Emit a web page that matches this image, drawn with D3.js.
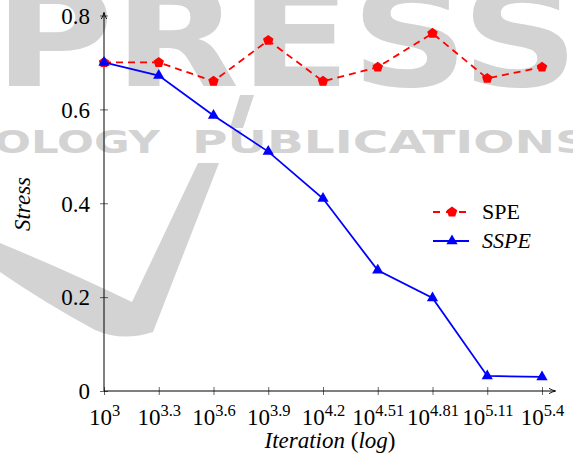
<html>
    <head>
        <title>stress vs iteration</title>
        <script src="https://d3js.org/d3.v7.min.js"></script>
    </head>
    <body>
        <svg id="stress-plot" width="573" height="461"></svg>
        <script>
            // chart data
            const exponents = ["3", "3.3", "3.6", "3.9", "4.2", "4.51", "4.81", "5.11", "5.4"];
            const speValues = [0.70, 0.70, 0.66, 0.747, 0.66, 0.69, 0.762, 0.666, 0.69];
            const sspeValues = [0.70, 0.672, 0.587, 0.51, 0.41, 0.257, 0.198, 0.032, 0.03];
            const yTicks = [0, 0.2, 0.4, 0.6, 0.8];

            const svg = d3.select("svg#stress-plot");
            const plotLeft = 104, plotRight = 542, plotTop = 15.5, plotBottom = 391;
            const serif = "'Liberation Serif', 'Times New Roman', serif";

            // background watermark
            const mark = svg.append("g").attr("id", "watermark").attr("fill", "#d3d3d3");
            mark.append("text").text("PRESS")
                .attr("x", -6).attr("y", 86)
                .attr("font-family", "'DejaVu Sans'").attr("font-weight", "bold")
                .attr("font-size", 138)
                .attr("textLength", 585).attr("lengthAdjust", "spacingAndGlyphs");
            mark.append("text").text("OLOGY")
                .attr("x", -6).attr("y", 153)
                .attr("font-family", "'DejaVu Sans'").attr("font-weight", "bold")
                .attr("font-size", 32)
                .attr("textLength", 166).attr("lengthAdjust", "spacingAndGlyphs");
            mark.append("text").text("PUBLICATIONS")
                .attr("x", 192).attr("y", 153)
                .attr("font-family", "'DejaVu Sans'").attr("font-weight", "bold")
                .attr("font-size", 32)
                .attr("textLength", 398).attr("lengthAdjust", "spacingAndGlyphs");
            mark.append("path")
                .attr("d", "M0,243 Q70,272 132,302 L198,163 L219,163 L153,332 Q122,342 95,330 Q45,303 0,272 Z");
            mark.append("path")
                .attr("d", "M240,95 L254,95 L243,128 L230,128 Z");

            // scales
            const xScale = d3.scalePoint().domain(exponents).range([plotLeft, plotRight]);
            const yScale = d3.scaleLinear().domain([0, 0.8]).range([plotBottom, plotTop]);

            // arrow head for the axes
            svg.append("defs").append("marker")
                .attr("id", "arrow")
                .attr("viewBox", "0 0 10 10")
                .attr("refX", 9).attr("refY", 5)
                .attr("markerWidth", 7).attr("markerHeight", 7)
                .attr("markerUnits", "userSpaceOnUse")
                .attr("orient", "auto")
                .append("path")
                .attr("d", "M0,1 Q5,4 10,5 Q5,6 0,9")
                .attr("fill", "none").attr("stroke", "black").attr("stroke-width", 1.3);

            // axis lines
            svg.append("line")
                .attr("x1", plotLeft).attr("y1", plotBottom)
                .attr("x2", 555).attr("y2", plotBottom)
                .attr("stroke", "black").attr("stroke-width", 1)
                .attr("marker-end", "url(#arrow)");
            svg.append("line")
                .attr("x1", plotLeft).attr("y1", plotBottom)
                .attr("x2", plotLeft).attr("y2", 13)
                .attr("stroke", "black").attr("stroke-width", 1)
                .attr("marker-end", "url(#arrow)");

            // y ticks
            const yAxis = d3.axisLeft(yScale)
                .tickValues(yTicks)
                .tickSize(4)
                .tickFormat(d => d === 0 ? "0" : d3.format(".1f")(d));
            const yAxisG = svg.append("g")
                .attr("transform", `translate(${plotLeft},0)`)
                .call(yAxis);
            yAxisG.select(".domain").remove();
            yAxisG.selectAll(".tick line").attr("x2", 4).attr("x1", -4).attr("stroke-width", 0.6);
            yAxisG.selectAll(".tick text")
                .attr("font-family", serif).attr("font-size", 23).attr("fill", "black")
                .attr("x", -14).attr("dy", "0.34em");

            // x ticks, labels written as powers of ten
            const xAxis = d3.axisBottom(xScale).tickSize(4).tickFormat("");
            const xAxisG = svg.append("g")
                .attr("transform", `translate(0,${plotBottom})`)
                .call(xAxis);
            xAxisG.select(".domain").remove();
            xAxisG.selectAll(".tick line").attr("y1", -4).attr("y2", 4).attr("stroke-width", 0.6);
            xAxisG.selectAll(".tick").each(function(d) {
                const t = d3.select(this).append("text")
                    .attr("y", 34)
                    .attr("text-anchor", "middle")
                    .attr("font-family", serif)
                    .attr("fill", "black");
                t.append("tspan").attr("font-size", 23).text("10");
                t.append("tspan").attr("font-size", 16.5).attr("dy", -9).text(d);
            });

            // axis labels
            svg.append("text")
                .attr("transform", "translate(30,204) rotate(-90)")
                .attr("text-anchor", "middle")
                .attr("font-family", serif).attr("font-size", 23).attr("font-style", "italic")
                .text("Stress");
            const xLabel = svg.append("text")
                .attr("x", 330).attr("y", 448)
                .attr("text-anchor", "middle")
                .attr("font-family", serif).attr("font-size", 23);
            xLabel.append("tspan").attr("font-style", "italic").text("Iteration");
            xLabel.append("tspan").text(" (");
            xLabel.append("tspan").attr("font-style", "italic").text("log");
            xLabel.append("tspan").text(")");

            // marker shapes
            function pentagon(r) {
                const pts = d3.range(5).map(i => {
                    const a = -Math.PI / 2 + i * 2 * Math.PI / 5;
                    return [r * Math.cos(a), r * Math.sin(a)];
                });
                return "M" + pts.join("L") + "Z";
            }
            function triangle(r) {
                const pts = [0, 1, 2].map(i => {
                    const a = -Math.PI / 2 + i * 2 * Math.PI / 3;
                    return [r * Math.cos(a), r * Math.sin(a)];
                });
                return "M" + pts.join("L") + "Z";
            }

            const series = [
                {name: "SPE", values: speValues, color: "red", dash: "7,5", shape: pentagon(5.5), italic: false},
                {name: "SSPE", values: sspeValues, color: "blue", dash: null, shape: triangle(6.5), italic: true}
            ];

            const lineGen = d3.line()
                .x((d, i) => xScale(exponents[i]))
                .y(d => yScale(d));

            const plotArea = svg.append("g").attr("id", "plot-area");
            series.forEach(s => {
                plotArea.append("path")
                    .datum(s.values)
                    .attr("fill", "none")
                    .attr("stroke", s.color)
                    .attr("stroke-width", 1.8)
                    .attr("stroke-dasharray", s.dash)
                    .attr("d", lineGen);
                plotArea.selectAll(null)
                    .data(s.values)
                    .enter().append("path")
                    .attr("d", s.shape)
                    .attr("fill", s.color)
                    .attr("transform", (d, i) => `translate(${xScale(exponents[i])},${yScale(d)})`);
            });

            // legend
            const legend = svg.append("g").attr("transform", "translate(433,212)");
            series.forEach((s, i) => {
                const row = legend.append("g").attr("transform", `translate(0,${i * 29})`);
                row.append("line")
                    .attr("x1", 0).attr("x2", 36)
                    .attr("stroke", s.color).attr("stroke-width", 1.8)
                    .attr("stroke-dasharray", s.dash ? "7,6" : null);
                row.append("path")
                    .attr("d", s.shape)
                    .attr("fill", s.color)
                    .attr("transform", "translate(19,0)");
                row.append("text")
                    .attr("x", 49).attr("y", 7)
                    .attr("font-family", serif).attr("font-size", 22)
                    .attr("font-style", s.italic ? "italic" : "normal")
                    .text(s.name);
            });
        </script>
    </body>
</html>

<style>
    body {
        margin: 0;
        background: white;
    }
    svg {
        display: block;
    }
</style>
